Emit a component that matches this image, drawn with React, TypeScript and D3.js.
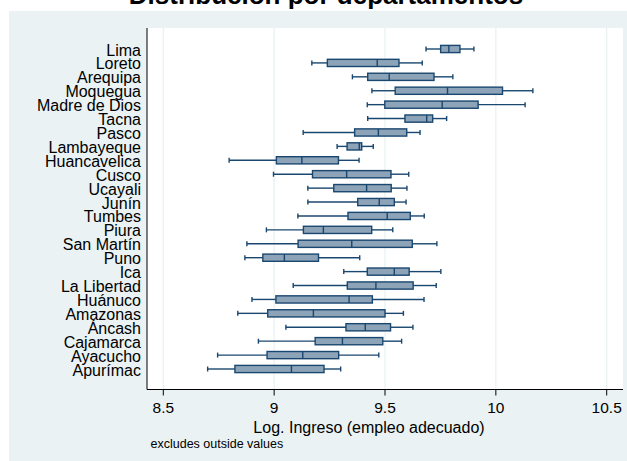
import React from "react";
import * as d3 from "d3";

// Departments, top to bottom
const departments = [
  "Lima", "Loreto", "Arequipa", "Moquegua", "Madre de Dios", "Tacna", "Pasco",
  "Lambayeque", "Huancavelica", "Cusco", "Ucayali", "Junín", "Tumbes", "Piura",
  "San Martín", "Puno", "Ica", "La Libertad", "Huánuco", "Amazonas", "Áncash",
  "Cajamarca", "Ayacucho", "Apurímac",
];

// Box-plot statistics of log income (adequate employment)
const whiskerLow = [
  9.685, 9.170, 9.353, 9.441, 9.420, 9.422, 9.131, 9.284, 8.797, 8.997, 9.152, 9.152,
  9.107, 8.965, 8.877, 8.868, 9.314, 9.086, 8.900, 8.836, 9.053, 8.929, 8.745, 8.700,
];
const quartile1 = [
  9.751, 9.240, 9.422, 9.546, 9.499, 9.590, 9.363, 9.329, 9.010, 9.173, 9.269, 9.377,
  9.333, 9.132, 9.108, 8.949, 9.420, 9.330, 9.008, 8.971, 9.324, 9.185, 8.968, 8.823,
];
const medians = [
  9.788, 9.465, 9.519, 9.782, 9.758, 9.688, 9.470, 9.384, 9.125, 9.327, 9.417, 9.474,
  9.510, 9.222, 9.350, 9.046, 9.542, 9.459, 9.338, 9.177, 9.411, 9.308, 9.129, 9.078,
];
const quartile3 = [
  9.838, 9.563, 9.721, 10.030, 9.920, 9.715, 9.598, 9.395, 9.290, 9.527, 9.528, 9.542,
  9.614, 9.440, 9.623, 9.200, 9.609, 9.627, 9.443, 9.500, 9.525, 9.490, 9.291, 9.225,
];
const whiskerHigh = [
  9.901, 9.668, 9.806, 10.167, 10.132, 9.778, 9.658, 9.447, 9.383, 9.607, 9.599, 9.595,
  9.677, 9.535, 9.734, 9.386, 9.752, 9.731, 9.676, 9.583, 9.626, 9.575, 9.472, 9.300,
];

const xTicks = [8.5, 9, 9.5, 10, 10.5];
const xTickLabels = ["8.5", "9", "9.5", "10", "10.5"];

const W = 627;
const H = 461;
const FONT = "'Liberation Sans', Arial, Helvetica, sans-serif";
const NAVY = "#1a476f";
const FILL = "#8ca3b8";
const BG = "#eaf2f3";

export default function App() {
  const plot = { left: 147, right: 623, top: 28, bottom: 389.5 };
  const x = d3.scaleLinear().domain([8.5, 10.5]).range([163.3, 606.7]);
  const y = d3.scalePoint<string>().domain(departments).range([49, 369]);

  const boxH = 7.2;
  const capH = 5;

  return (
    <svg
      width={W}
      height={H}
      style={{ position: "absolute", left: 0, top: 0, display: "block" }}
      fontFamily={FONT}
    >
      <rect x={0} y={0} width={W} height={H} fill="#ffffff" />
      <rect x={9} y={11} width={W - 9} height={H - 11} fill={BG} />

      <text
        x={326}
        y={4}
        textAnchor="middle"
        fontSize={26}
        fontWeight="bold"
        fill="#000"
      >
        Distribución por departamentos
      </text>

      {/* plot region */}
      <rect
        x={plot.left}
        y={plot.top}
        width={plot.right - plot.left}
        height={plot.bottom - plot.top}
        fill="#ffffff"
      />

      {/* vertical grid */}
      {xTicks.map((t) => (
        <line
          key={"g" + t}
          x1={x(t)}
          x2={x(t)}
          y1={plot.top}
          y2={plot.bottom}
          stroke={BG}
          strokeWidth={1.3}
        />
      ))}

      {/* boxes */}
      {departments.map((d, i) => {
        const cy = y(d)!;
        const lo = x(whiskerLow[i]);
        const q1 = x(quartile1[i]);
        const md = x(medians[i]);
        const q3 = x(quartile3[i]);
        const hi = x(whiskerHigh[i]);
        return (
          <g key={d} stroke={NAVY} strokeWidth={1.4}>
            <line x1={lo} x2={q1} y1={cy} y2={cy} />
            <line x1={q3} x2={hi} y1={cy} y2={cy} />
            <line x1={lo} x2={lo} y1={cy - capH / 2} y2={cy + capH / 2} />
            <line x1={hi} x2={hi} y1={cy - capH / 2} y2={cy + capH / 2} />
            <rect
              x={q1}
              y={cy - boxH / 2}
              width={q3 - q1}
              height={boxH}
              fill={FILL}
            />
            <line x1={md} x2={md} y1={cy - boxH / 2} y2={cy + boxH / 2} />
          </g>
        );
      })}

      {/* axes */}
      <line
        x1={plot.left}
        x2={plot.left}
        y1={plot.top}
        y2={plot.bottom}
        stroke="#000"
        strokeWidth={1}
      />
      <line
        x1={plot.left}
        x2={plot.right}
        y1={plot.bottom}
        y2={plot.bottom}
        stroke="#000"
        strokeWidth={1}
      />
      {xTicks.map((t, i) => (
        <g key={"t" + t}>
          <line
            x1={x(t)}
            x2={x(t)}
            y1={plot.bottom}
            y2={plot.bottom + 6}
            stroke="#000"
            strokeWidth={1}
          />
          <text
            x={x(t)}
            y={413}
            textAnchor="middle"
            fontSize={15.5}
            fill="#000"
          >
            {xTickLabels[i]}
          </text>
        </g>
      ))}

      {/* category labels */}
      {departments.map((d) => (
        <text
          key={"l" + d}
          x={141}
          y={y(d)! + 6.5}
          textAnchor="end"
          fontSize={16}
          fill="#000"
        >
          {d}
        </text>
      ))}

      <text x={369} y={433} textAnchor="middle" fontSize={16} fill="#000">
        Log. Ingreso (empleo adecuado)
      </text>
      <text x={150.5} y={447.5} fontSize={12.5} fill="#000">
        excludes outside values
      </text>
    </svg>
  );
}
